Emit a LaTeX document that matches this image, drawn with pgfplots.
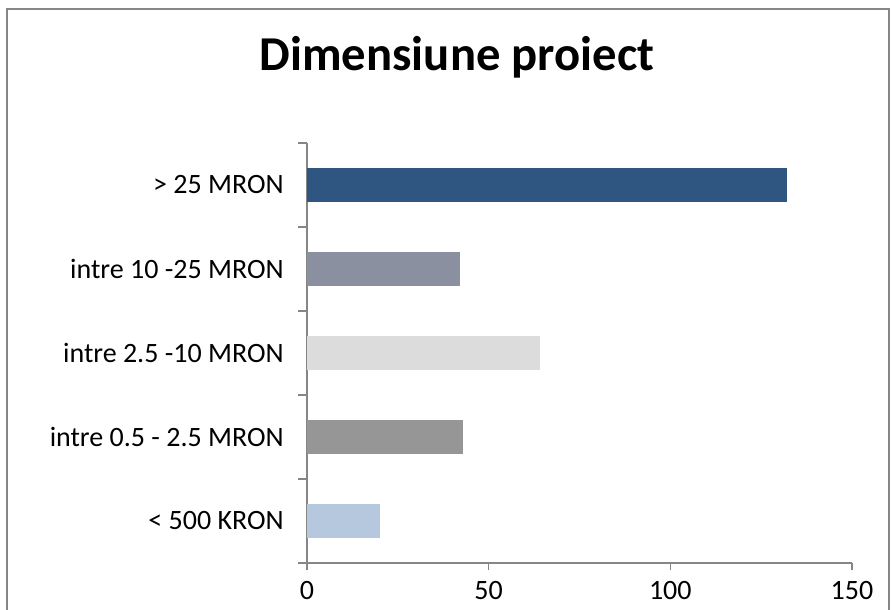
\documentclass[border=0pt]{standalone}
\usepackage{pgfplots}
\pgfplotsset{compat=1.18}
\usepackage{fontspec}
\setmainfont{Carlito}
\definecolor{axgray}{HTML}{868686}
\definecolor{cA}{HTML}{2F5581}
\definecolor{cB}{HTML}{8A90A0}
\definecolor{cC}{HTML}{DCDCDC}
\definecolor{cD}{HTML}{969696}
\definecolor{cE}{HTML}{B6C8DD}
\begin{document}
\begin{tikzpicture}[x=0.75pt,y=0.75pt]
\useasboundingbox (-307,-47) rectangle (586,563);
\draw[axgray,line width=1.1pt] (-300,-60) -- (-300,554) -- (582,554) -- (582,-60);
\node[font=\fontsize{36.5}{42}\selectfont\bfseries] at (150,506) {Dimensiune proiect};
\begin{axis}[
  at={(0,0)}, anchor=south west,
  scale only axis, width=408.75pt, height=315pt,
  xmin=0, xmax=150, ymin=-0.5, ymax=4.5,
  xbar, bar width=25.5pt, bar shift=0pt,
  axis x line*=bottom, axis y line*=left,
  axis line style={axgray, line width=0.9pt},
  xtick={0,50,100,150},
  ytick={0,1,2,3,4},
  yticklabels={< 500 KRON, intre 0.5 - 2.5 MRON, intre 2.5 -10 MRON, intre 10 -25 MRON, > 25 MRON},
  major tick length=0pt,
  extra y ticks={-0.5,0.5,1.5,2.5,3.5,4.5},
  extra y tick labels={},
  extra y tick style={major tick length=6.5pt, tick style={axgray, line width=0.9pt}},
  extra x ticks={0,50,100,150},
  extra x tick labels={},
  extra x tick style={major tick length=5.5pt, tick style={axgray, line width=0.9pt}},
  tick align=outside,
  tick label style={font=\fontsize{21}{25}\selectfont},
  /pgf/number format/assume math mode=true,
  xticklabel style={yshift=-10pt},
  yticklabel style={xshift=-14pt},
  clip=false,
]
\addplot[fill=cE, draw=none] coordinates {(20,0)};
\addplot[fill=cD, draw=none] coordinates {(43,1)};
\addplot[fill=cC, draw=none] coordinates {(64,2)};
\addplot[fill=cB, draw=none] coordinates {(42,3)};
\addplot[fill=cA, draw=none] coordinates {(132,4)};
\end{axis}
\end{tikzpicture}
\end{document}
